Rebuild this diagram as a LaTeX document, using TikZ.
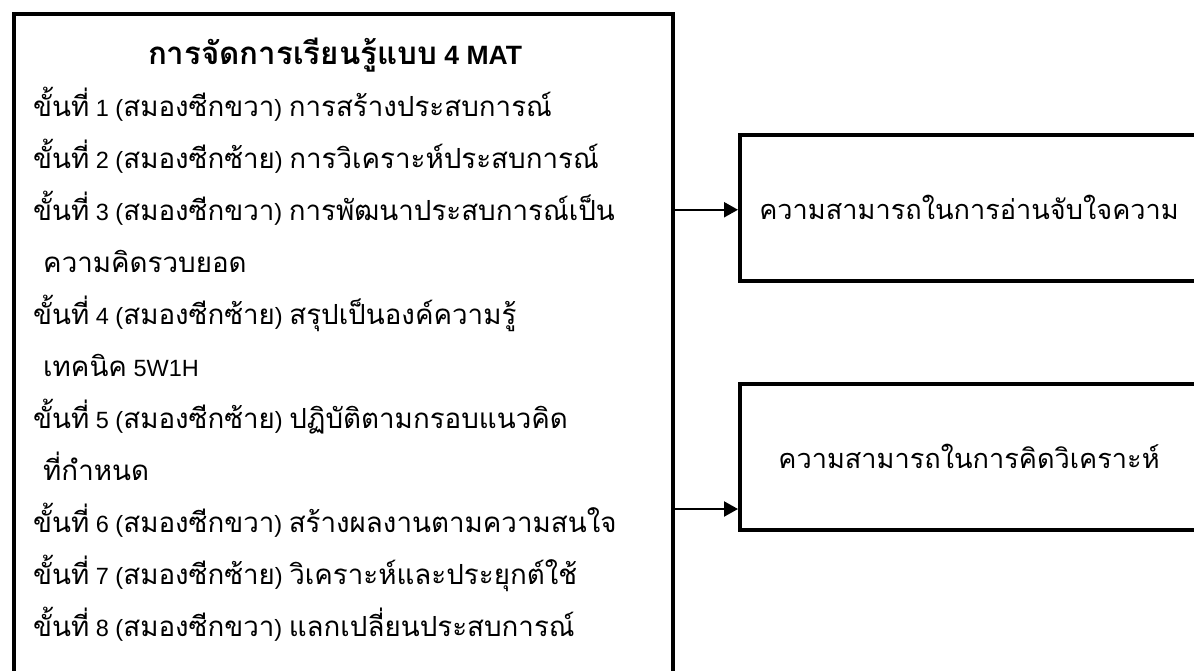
\documentclass[tikz,border=0pt]{standalone}
\usepackage{fontspec}
\setmainfont{Liberation Sans}
\newfontfamily\thaif[Script=Thai,Scale=1.18]{Loma}
\newcommand\T[1]{{\thaif #1}}
\usetikzlibrary{arrows.meta}
\tikzset{
  frame/.style={draw=black, line width=4pt, rectangle, inner sep=0pt},
  ln/.style={anchor=base west, inner sep=0pt, font=\fontsize{23.5}{26}\selectfont},
  conn/.style={draw=black, line width=2.2pt, -{Triangle[length=14pt,width=15pt]}},
  rtext/.style={font=\fontsize{23}{26}\selectfont}
}
\begin{document}
\begin{tikzpicture}[x=1pt,y=-1pt]
\useasboundingbox (0,0) rectangle (1194,670);
\clip (0,0) rectangle (1194,670);
% left box
\node[frame, anchor=north west, minimum width=659pt, minimum height=700pt] (method) at (12,11.5) {};
% right boxes
\node[frame, anchor=north west, minimum width=458pt, minimum height=146.5pt, rtext] (box1) at (738,132.5) {\T{ความสามารถในการอ่านจับใจความ}};
\node[frame, anchor=north west, minimum width=458pt, minimum height=146.5pt, rtext] (box2) at (738,381.5) {\raisebox{-5pt}{\T{ความสามารถในการคิดวิเคราะห์}}};
% text lines
\node[anchor=base, inner sep=0pt, font=\fontsize{26.5}{30}\selectfont\bfseries] (l0) at (335,64) {\T{การจัดการเรียนรู้แบบ} 4 MAT};
\node[ln] (l1) at (33,116) {\T{ขั้นที่} 1 (\T{สมองซีกขวา}) \T{การสร้างประสบการณ์}};
\node[ln] (l2) at (33,168) {\T{ขั้นที่} 2 (\T{สมองซีกซ้าย}) \T{การวิเคราะห์ประสบการณ์}};
\node[ln] (l3) at (33,220) {\T{ขั้นที่} 3 (\T{สมองซีกขวา}) \T{การพัฒนาประสบการณ์เป็น}};
\node[ln] (l4) at (43,272) {\T{ความคิดรวบยอด}};
\node[ln] (l5) at (33,324) {\T{ขั้นที่} 4 (\T{สมองซีกซ้าย}) \T{สรุปเป็นองค์ความรู้}};
\node[ln] (l6) at (43,376) {\T{เทคนิค} 5W1H};
\node[ln] (l7) at (33,428) {\T{ขั้นที่} 5 (\T{สมองซีกซ้าย}) \T{ปฏิบัติตามกรอบแนวคิด}};
\node[ln] (l8) at (43,480) {\T{ที่กำหนด}};
\node[ln] (l9) at (33,532) {\T{ขั้นที่} 6 (\T{สมองซีกขวา}) \T{สร้างผลงานตามความสนใจ}};
\node[ln] (l10) at (33,584) {\T{ขั้นที่} 7 (\T{สมองซีกซ้าย}) \T{วิเคราะห์และประยุกต์ใช้}};
\node[ln] (l11) at (33,636) {\T{ขั้นที่} 8 (\T{สมองซีกขวา}) \T{แลกเปลี่ยนประสบการณ์}};
% connectors
\coordinate (a1) at ([yshift=-2pt]box1.west);
\coordinate (a2) at ([yshift=23pt]box2.south west);
\draw[conn] (method.east |- a1) -- (a1);
\draw[conn] (method.east |- a2) -- (a2);
\end{tikzpicture}
\end{document}
